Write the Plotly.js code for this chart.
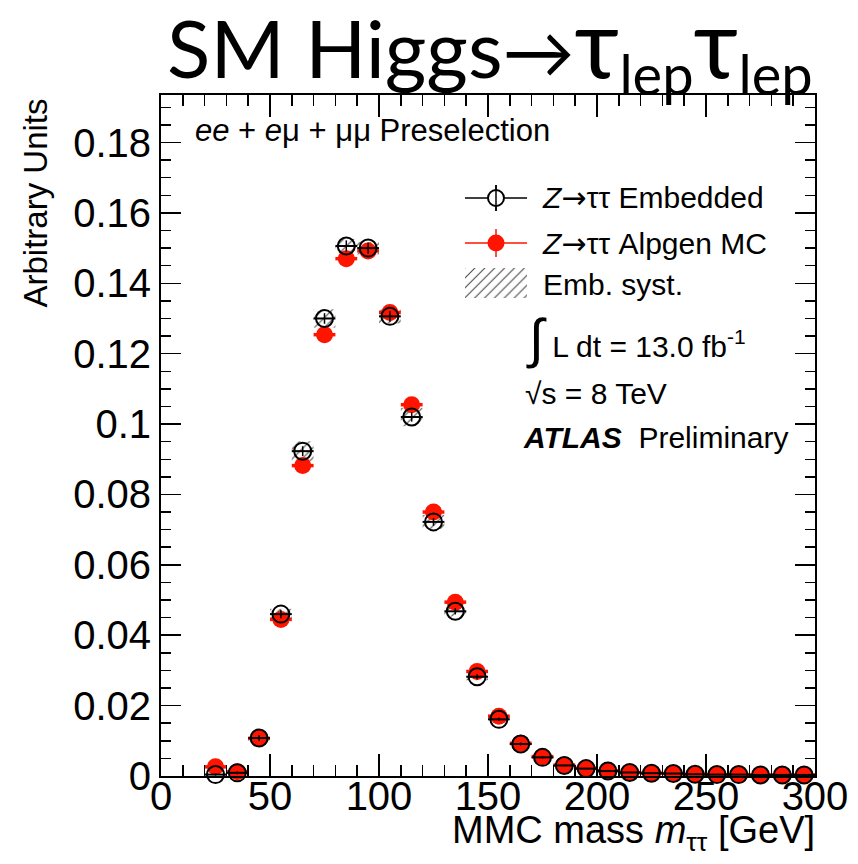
<!DOCTYPE html>
<html>
<head>
<meta charset="utf-8">
<script src="https://cdn.plot.ly/plotly-3.0.1.min.js"></script>
<style>html,body{margin:0;padding:0;background:#fff;}#chart{width:858px;height:864px;}</style>
</head>
<body>
<div id="chart"></div>
<script>
// ---- data ----
const binCenters = [25,35,45,55,65,75,85,95,105,115,125,135,145,155,165,175,185,195,205,215,225,235,245,255,265,275,285,295];
const embedded = [0.0004,0.0009,0.0108,0.0460,0.0923,0.1300,0.1506,0.1500,0.1306,0.1020,0.0722,0.0468,0.0282,0.0161,0.0091,0.0053,0.0030,0.0021,0.0014,0.0010,0.0008,0.0007,0.0005,0.0004,0.0004,0.0003,0.0003,0.0003];
const embeddedStat = [0.0003,0.0004,0.0008,0.0012,0.0014,0.0015,0.0016,0.0016,0.0015,0.0013,0.0011,0.0009,0.0007,0.0005,0.0004,0.0003,0.0002,0.0002,0.0002,0.0001,0.0001,0.0001,0.0001,0.0001,0.0001,0.0001,0.0001,0.0001];
const embeddedSyst = [0.0002,0.0003,0.0008,0.0015,0.0028,0.0026,0.0020,0.0018,0.0020,0.0026,0.0020,0.0015,0.0010,0.0006,0.0004,0.0003,0.0002,0.0002,0.0001,0.0001,0.0001,0.0001,0.0001,0.0001,0.0001,0.0001,0.0001,0.0001];
const alpgen = [0.0026,0.0012,0.0107,0.0445,0.0882,0.1254,0.1470,0.1492,0.1317,0.1055,0.0750,0.0494,0.0297,0.0170,0.0093,0.0055,0.0031,0.0022,0.0015,0.0010,0.0008,0.0007,0.0005,0.0004,0.0004,0.0003,0.0003,0.0003];
const alpgenStat = [0.0003,0.0002,0.0004,0.0006,0.0008,0.0009,0.0010,0.0010,0.0009,0.0008,0.0007,0.0006,0.0004,0.0003,0.0002,0.0002,0.0001,0.0001,0.0001,0.0001,0.0001,0.0001,0.0001,0.0001,0.0001,0.0001,0.0001,0.0001];
const binHalfWidth = 5;
const yTickStep = 0.02;
const xTickStep = 50;

// ---- geometry helpers (pixel -> paper) ----
const L = 161, R = 815, T = 95, B = 776;
const px = v => (v - L) / (R - L);
const py = v => (B - v) / (B - T);

const RED = '#ff1400';
const FONT = 'Liberation Sans, Arial, sans-serif';
const ARROW = '<span style="font-family:DejaVu Sans">→</span>';

const systBase = embedded.map((v, i) => v - embeddedSyst[i]);
const systHeight = embeddedSyst.map(s => 2 * s);

const hatchPattern = {shape: '/', fgcolor: '#444', bgcolor: 'rgba(0,0,0,0)', size: 7, solidity: 0.15};

const traces = [
  {
    type: 'scatter', mode: 'markers', x: binCenters, y: alpgen,
    marker: {symbol: 'circle', size: 17, color: RED, line: {width: 0}},
    error_x: {type: 'constant', value: binHalfWidth, width: 0, thickness: 3.5, color: RED},
    error_y: {type: 'data', array: alpgenStat, width: 0, thickness: 2, color: RED},
    showlegend: false, cliponaxis: false
  },
  {
    type: 'scatter', mode: 'markers', x: binCenters, y: embedded,
    marker: {symbol: 'circle-open', size: 17, color: '#000', line: {width: 2, color: '#000'}},
    error_x: {type: 'constant', value: binHalfWidth, width: 0, thickness: 2, color: '#000'},
    error_y: {type: 'data', array: embeddedStat, width: 0, thickness: 1.5, color: '#000'},
    showlegend: false, cliponaxis: false
  },
  {
    type: 'bar', x: binCenters, y: systHeight, base: systBase, width: 2 * binHalfWidth,
    marker: {color: 'rgba(0,0,0,0)', line: {width: 0}, pattern: hatchPattern},
    showlegend: false, hoverinfo: 'skip'
  },
  // legend swatch for the hatched systematic band, drawn on a tiny hidden axis
  {
    type: 'bar', x: [0.5], y: [1], width: [1], xaxis: 'x2', yaxis: 'y2',
    marker: {color: 'rgba(0,0,0,0)', line: {width: 0}, pattern: hatchPattern},
    showlegend: false, hoverinfo: 'skip'
  }
];

const annFont = (size, color) => ({family: FONT, size: size, color: color || '#000'});

const annotations = [
  {xref: 'paper', yref: 'paper', x: px(490), y: py(45), xanchor: 'center', yanchor: 'middle', showarrow: false,
   text: 'SM Higgs<span style="font-size:72px">' + '→' + '</span><span style="font-size:96px">τ</span><sub>lep</sub><span style="font-size:96px">τ</span><sub>lep</sub>',
   font: {family: 'Lato, Open Sans, sans-serif', size: 80, color: '#000'}},
  {xref: 'paper', yref: 'paper', x: px(193), y: py(131), xanchor: 'left', yanchor: 'middle', showarrow: false,
   text: '<i>ee</i> + <i>e</i>μ + μμ Preselection', font: annFont(31)},
  {xref: 'paper', yref: 'paper', x: px(540), y: py(198), xanchor: 'left', yanchor: 'middle', showarrow: false,
   text: '<i>Z</i>' + ARROW + 'ττ Embedded', font: annFont(30)},
  {xref: 'paper', yref: 'paper', x: px(540), y: py(243), xanchor: 'left', yanchor: 'middle', showarrow: false,
   text: '<i>Z</i>' + ARROW + 'ττ Alpgen MC', font: annFont(30)},
  {xref: 'paper', yref: 'paper', x: px(541), y: py(284), xanchor: 'left', yanchor: 'middle', showarrow: false,
   text: 'Emb. syst.', font: annFont(30)},
  {xref: 'paper', yref: 'paper', x: px(524), y: py(338), xanchor: 'left', yanchor: 'middle', showarrow: false,
   text: '<span style="font-size:54px">∫</span> L dt = 13.0 fb<sup>-1</sup>', font: annFont(30)},
  {xref: 'paper', yref: 'paper', x: px(523), y: py(393), xanchor: 'left', yanchor: 'middle', showarrow: false,
   text: '√s = 8 TeV', font: annFont(30)},
  {xref: 'paper', yref: 'paper', x: px(521), y: py(438), xanchor: 'left', yanchor: 'middle', showarrow: false,
   text: '<b><i>ATLAS</i></b>  Preliminary', font: annFont(30)},
  {xref: 'paper', yref: 'paper', x: px(35), y: py(97), xanchor: 'center', yanchor: 'top', showarrow: false,
   textangle: -90, text: 'Arbitrary Units', font: annFont(33)},
  {xref: 'paper', yref: 'paper', x: px(817), y: py(833), xanchor: 'right', yanchor: 'middle', showarrow: false,
   text: 'MMC mass <i>m</i><sub>ττ</sub> [GeV]', font: annFont(38)}
];

const shapes = [
  // legend: embedded
  {type: 'line', xref: 'paper', yref: 'paper', x0: px(465), x1: px(527), y0: py(198), y1: py(198), line: {color: '#000', width: 1.5}},
  {type: 'line', xref: 'paper', yref: 'paper', x0: px(496), x1: px(496), y0: py(185), y1: py(211), line: {color: '#000', width: 1.5}},
  {type: 'circle', xref: 'paper', yref: 'paper', xsizemode: 'pixel', ysizemode: 'pixel', xanchor: px(496), yanchor: py(198),
   x0: -8, x1: 8, y0: -8, y1: 8, fillcolor: '#fff', line: {color: '#000', width: 2}},
  {type: 'line', xref: 'paper', yref: 'paper', x0: px(496), x1: px(496), y0: py(185), y1: py(211), line: {color: '#000', width: 1.5}},
  // legend: alpgen
  {type: 'line', xref: 'paper', yref: 'paper', x0: px(465), x1: px(527), y0: py(243), y1: py(243), line: {color: RED, width: 1.5}},
  {type: 'line', xref: 'paper', yref: 'paper', x0: px(496), x1: px(496), y0: py(229), y1: py(257), line: {color: RED, width: 1.5}},
  {type: 'circle', xref: 'paper', yref: 'paper', xsizemode: 'pixel', ysizemode: 'pixel', xanchor: px(496), yanchor: py(243),
   x0: -8.5, x1: 8.5, y0: -8.5, y1: 8.5, fillcolor: RED, line: {color: RED, width: 0}}
];

const layout = {
  width: 858, height: 864,
  margin: {l: L, r: 858 - R, t: T, b: 864 - B, pad: 0},
  paper_bgcolor: '#fff', plot_bgcolor: '#fff',
  showlegend: false,
  barmode: 'overlay',
  font: {family: FONT, color: '#000'},
  xaxis: {
    range: [0, 300], dtick: xTickStep, tick0: 0,
    ticks: 'inside', ticklen: 22, tickwidth: 1.5, tickcolor: '#000',
    minor: {dtick: 10, ticks: 'inside', ticklen: 11, tickwidth: 1.5, tickcolor: '#000'},
    showline: true, linecolor: '#000', linewidth: 2, mirror: 'ticks',
    showgrid: false, zeroline: false, ticklabelstandoff: -16,
    tickfont: {family: FONT, size: 40, color: '#000'}
  },
  yaxis: {
    range: [0, 0.1935], dtick: yTickStep, tick0: 0,
    ticks: 'inside', ticklen: 20, tickwidth: 1.5, tickcolor: '#000',
    minor: {dtick: 0.005, ticks: 'inside', ticklen: 10, tickwidth: 1.5, tickcolor: '#000'},
    showline: true, linecolor: '#000', linewidth: 2, mirror: 'ticks',
    showgrid: false, zeroline: false,
    tickfont: {family: FONT, size: 40, color: '#000'}
  },
  xaxis2: {domain: [px(465), px(527)], range: [0, 1], visible: false, anchor: 'y2', fixedrange: true},
  yaxis2: {domain: [py(298), py(268)], range: [0, 1], visible: false, anchor: 'x2', fixedrange: true},
  annotations: annotations,
  shapes: shapes
};

Plotly.newPlot('chart', traces, layout, {staticPlot: true, displayModeBar: false});
</script>
</body>
</html>
